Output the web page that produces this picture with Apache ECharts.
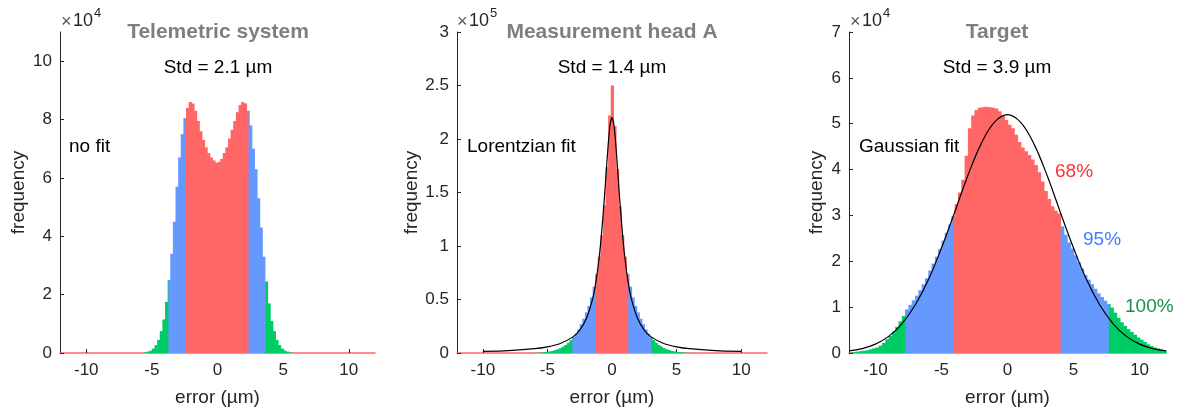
<!DOCTYPE html>
<html><head><meta charset="utf-8">
<script src="https://cdn.jsdelivr.net/npm/echarts@6/dist/echarts.min.js"></script>
<style>html,body{margin:0;padding:0;background:#fff}#c{width:1184px;height:412px}</style>
</head><body><div id="c"></div>
<script>
// ---------- DATA ----------
const xTicks = [-10, -5, 0, 5, 10];

// Telemetric system (frequency in units of 1e4), bins of 0.2 µm starting at -5.6
const teleStart = -5.6, teleBin = 0.2;
const teleCounts = [0.02,0.05,0.08,0.15,0.27,0.45,0.75,1.15,1.75,2.5,3.4,4.5,5.7,6.7,7.5,8.05,8.4,8.6,8.55,8.3,7.95,7.6,7.3,7.05,6.85,6.7,6.6,6.52,6.55,6.65,6.85,7.05,7.35,7.65,7.95,8.25,8.5,8.6,8.55,8.3,7.8,7.0,6.3,5.3,4.3,3.3,2.45,1.7,1.1,0.75,0.45,0.27,0.15,0.08,0.05,0.02];
const teleBands = [-3.74, -2.42, 2.36, 3.66];
const teleYTicks = [0, 2, 4, 6, 8, 10];

// Measurement head A (frequency in units of 1e5), bins of 0.2 µm starting at -6.1
const headStart = -6.1, headBin = 0.2;
const headCounts = [0.001,0.002,0.003,0.005,0.008,0.011,0.015,0.02,0.027,0.035,0.045,0.06,0.075,0.095,0.12,0.15,0.18,0.22,0.27,0.32,0.38,0.44,0.52,0.62,0.74,0.9,1.1,1.38,1.74,2.22,2.5,2.12,1.72,1.37,1.1,0.9,0.74,0.62,0.52,0.44,0.38,0.32,0.27,0.22,0.18,0.15,0.12,0.095,0.075,0.06,0.045,0.035,0.027,0.02,0.015,0.011,0.008,0.005,0.003,0.002,0.001];
const headBands = [-3.07, -1.26, 1.27, 3.05];
const headYTicks = [0, 0.5, 1, 1.5, 2, 2.5, 3];
const lorentzX = [-10,-8,-6,-5,-4,-3,-2.5,-2,-1.5,-1.25,-1,-0.8,-0.6,-0.45,-0.3,-0.15,0,0.15,0.3,0.45,0.6,0.8,1,1.25,1.5,2,2.5,3,4,5,6,8,10];
const lorentzY = [0.015,0.023,0.04,0.058,0.089,0.153,0.214,0.317,0.506,0.66,0.885,1.13,1.43,1.69,1.94,2.13,2.2,2.13,1.94,1.69,1.43,1.13,0.885,0.66,0.506,0.317,0.214,0.153,0.089,0.058,0.04,0.023,0.015];

// Target (frequency in units of 1e4), bins of 0.25 µm starting at -12
const targStart = -12, targBin = 0.25;
const targCounts = [0.01,0.02,0.03,0.04,0.05,0.06,0.08,0.1,0.12,0.16,0.22,0.3,0.37,0.47,0.57,0.69,0.81,0.95,1.05,1.15,1.25,1.37,1.5,1.63,1.8,1.95,2.1,2.27,2.45,2.62,2.8,2.98,3.25,3.5,3.78,4.3,4.9,5.18,5.3,5.35,5.36,5.37,5.36,5.35,5.33,5.27,5.18,5.08,4.98,4.9,4.76,4.6,4.48,4.4,4.32,4.22,4.1,3.94,3.74,3.53,3.36,3.2,3.1,3.04,2.76,2.58,2.41,2.28,2.13,1.98,1.84,1.7,1.6,1.5,1.4,1.3,1.22,1.14,1.07,0.99,0.88,0.77,0.67,0.59,0.52,0.46,0.4,0.34,0.29,0.24,0.19,0.15,0.12,0.1,0.08,0.06];
const targBands = [-7.73, -4.05, 4.02, 7.67];
const targYTicks = [0, 1, 2, 3, 4, 5, 6, 7];
const gaussX = [-12,-11,-10,-9,-8,-7,-6,-5,-4,-3,-2,-1,0,1,2,3,4,5,6,7,8,9,10,11,12];
const gaussY = [0.046,0.097,0.194,0.363,0.635,1.04,1.59,2.29,3.07,3.87,4.56,5.03,5.2,5.03,4.56,3.87,3.07,2.29,1.59,1.04,0.635,0.363,0.194,0.097,0.046];

const titles = ['Telemetric system', 'Measurement head A', 'Target'];
const stdTexts = ['Std = 2.1 µm', 'Std = 1.4 µm', 'Std = 3.9 µm'];
const fitTexts = ['no fit', 'Lorentzian fit', 'Gaussian fit'];
const exponents = ['4', '5', '4'];
const pctLabels = ['68%', '95%', '100%'];

// ---------- CHART ----------
const RED = '#ff6666', BLUE = '#6699ff', GREEN = '#00cc66';
const AX = '#262626';
const FF = '"Liberation Sans", Arial, sans-serif';

function bins(start, w, counts) {
  return counts.map((v, i) => [start + i * w, start + (i + 1) * w, v]);
}
function makeRender(bands) {
  return function (params, api) {
    const x0 = api.value(0), x1 = api.value(1), v = api.value(2);
    const cuts = [x0];
    bands.forEach(b => { if (b > x0 && b < x1) cuts.push(b); });
    cuts.push(x1);
    const children = [];
    for (let i = 0; i < cuts.length - 1; i++) {
      const a = cuts[i], b = cuts[i + 1], m = (a + b) / 2;
      const color = (m < bands[0] || m > bands[3]) ? GREEN : ((m < bands[1] || m > bands[2]) ? BLUE : RED);
      const p0 = api.coord([a, v]), p1 = api.coord([b, 0]);
      children.push({ type: 'rect', shape: { x: p0[0], y: p0[1], width: p1[0] - p0[0] + 0.7, height: p1[1] - p0[1] },
        style: { fill: color } });
    }
    return { type: 'group', children };
  };
}

const grids = [
  { left: 60, top: 32, width: 315, height: 322 },
  { left: 457, top: 32, width: 310, height: 322 },
  { left: 849, top: 32, width: 317, height: 322 }
];
const yMax = [11, 3, 7];
const yTicks = [teleYTicks, headYTicks, targYTicks];
const yNameGap = [32, 36, 23];
const centers = [218, 612, 997];

const xAxes = grids.map((g, i) => ({
  gridIndex: i, type: 'value', min: -12, max: 12,
  axisLine: { show: true, onZero: false, lineStyle: { color: RED, width: 1.5 } },
  axisTick: { show: true, inside: true, length: 4, customValues: xTicks, lineStyle: { color: AX } },
  axisLabel: { customValues: xTicks, fontSize: 17, color: AX, margin: 9, fontFamily: FF },
  splitLine: { show: false },
  name: 'error (µm)', nameLocation: 'middle', nameGap: 35,
  nameTextStyle: { fontSize: 19, color: AX, fontFamily: FF }
}));
const yAxes = grids.map((g, i) => ({
  gridIndex: i, type: 'value', min: 0, max: yMax[i],
  axisLine: { show: true, onZero: false, lineStyle: { color: AX } },
  axisTick: { show: true, inside: true, length: 4, customValues: yTicks[i], lineStyle: { color: AX } },
  axisLabel: { customValues: yTicks[i], fontSize: 17, color: AX, margin: 8, fontFamily: FF },
  splitLine: { show: false },
  name: 'frequency', nameLocation: 'middle', nameGap: yNameGap[i], nameRotate: 90,
  nameTextStyle: { fontSize: 19, color: AX, fontFamily: FF }
}));

const series = [
  { type: 'custom', xAxisIndex: 0, yAxisIndex: 0, renderItem: makeRender(teleBands), encode: { x: [0, 1], y: 2 }, data: bins(teleStart, teleBin, teleCounts) },
  { type: 'custom', xAxisIndex: 1, yAxisIndex: 1, renderItem: makeRender(headBands), encode: { x: [0, 1], y: 2 }, data: bins(headStart, headBin, headCounts) },
  { type: 'custom', xAxisIndex: 2, yAxisIndex: 2, renderItem: makeRender(targBands), encode: { x: [0, 1], y: 2 }, data: bins(targStart, targBin, targCounts) },
  { type: 'line', xAxisIndex: 1, yAxisIndex: 1, z: 5, showSymbol: false, smooth: 0.25, lineStyle: { color: '#000', width: 1.2 },
    data: lorentzX.map((x, i) => [x, lorentzY[i]]) },
  { type: 'line', xAxisIndex: 2, yAxisIndex: 2, z: 5, showSymbol: false, smooth: 0.4, lineStyle: { color: '#000', width: 1.2 },
    data: gaussX.map((x, i) => [x, gaussY[i]]) }
];

const graphics = [];
const fitLeft = [69, 467, 859];
const expLeft = [61, 457, 850];
for (let i = 0; i < 3; i++) {
  graphics.push({ type: 'text', x: centers[i], y: 32, style: { text: titles[i], fill: '#7f7f7f', font: 'bold 21px ' + FF, textAlign: 'center', textVerticalAlign: 'middle' } });
  graphics.push({ type: 'text', x: centers[i], y: 68, style: { text: stdTexts[i], fill: '#000', font: '19px ' + FF, textAlign: 'center', textVerticalAlign: 'middle' } });
  graphics.push({ type: 'text', x: fitLeft[i], y: 147, style: { text: fitTexts[i], fill: '#000', font: '19px ' + FF, textAlign: 'left', textVerticalAlign: 'middle' } });
  graphics.push({ type: 'text', x: expLeft[i], y: 22, style: { text: '×', fill: '#555', font: '18px ' + FF, textAlign: 'left', textVerticalAlign: 'middle' } });
  graphics.push({ type: 'text', x: expLeft[i] + 12, y: 21, style: { text: '10', fill: AX, font: '18px ' + FF, textAlign: 'left', textVerticalAlign: 'middle' } });
  graphics.push({ type: 'text', x: expLeft[i] + 33, y: 13, style: { text: exponents[i], fill: AX, font: '13px ' + FF, textAlign: 'left', textVerticalAlign: 'middle' } });
}
graphics.push({ type: 'text', x: 1055, y: 172, style: { text: pctLabels[0], fill: '#ff3030', font: '19px ' + FF, textAlign: 'left', textVerticalAlign: 'middle' } });
graphics.push({ type: 'text', x: 1083, y: 240, style: { text: pctLabels[1], fill: '#3d7fff', font: '19px ' + FF, textAlign: 'left', textVerticalAlign: 'middle' } });
graphics.push({ type: 'text', x: 1125, y: 307, style: { text: pctLabels[2], fill: '#15904e', font: '19px ' + FF, textAlign: 'left', textVerticalAlign: 'middle' } });

const chart = echarts.init(document.getElementById('c'), null, { renderer: 'canvas' });
chart.setOption({
  animation: false,
  backgroundColor: '#fff',
  textStyle: { fontFamily: FF },
  grid: grids,
  xAxis: xAxes,
  yAxis: yAxes,
  series: series,
  graphic: graphics
});
</script></body></html>
